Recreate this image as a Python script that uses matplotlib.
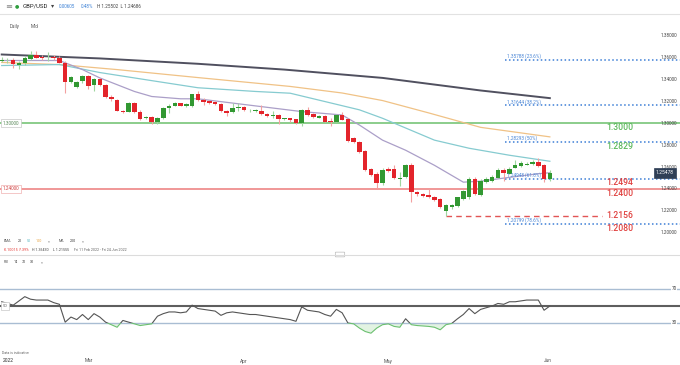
import matplotlib
matplotlib.use("Agg")
import matplotlib.pyplot as plt
import matplotlib.transforms as mtransforms
from matplotlib.patches import Rectangle, FancyBboxPatch
import numpy as np

plt.rcParams['font.family'] = ['Roboto', 'DejaVu Sans']

# ---- daily GBP/USD candles ----
opens = [
    1.3568, 1.3565, 1.3577, 1.3537, 1.3549, 1.3590, 1.3623, 1.3605, 1.3595, 1.3605,
    1.3593, 1.3553, 1.3378, 1.3328, 1.3383, 1.3429, 1.3347, 1.3408, 1.3353, 1.3236,
    1.3215, 1.3116, 1.3107, 1.3190, 1.3107, 1.3052, 1.3061, 1.3009, 1.3046, 1.3144,
    1.3162, 1.3181, 1.3157, 1.3159, 1.3267, 1.3215, 1.3206, 1.3194, 1.3175, 1.3113,
    1.3101, 1.3138, 1.3147, 1.3111, 1.3113, 1.3116, 1.3088, 1.3067, 1.3076, 1.3037,
    1.3046, 1.3037, 1.3006, 1.3123, 1.3083, 1.3052, 1.3070, 1.3021, 1.3015, 1.3076,
    1.3040, 1.2867, 1.2830, 1.2745, 1.2579, 1.2533, 1.2452, 1.2583, 1.2585, 1.2489,
    1.2508, 1.2616, 1.2370, 1.2355, 1.2346, 1.2323, 1.2309, 1.2201, 1.2231, 1.2247,
    1.2311, 1.2323, 1.2493, 1.2348, 1.2462, 1.2477, 1.2502, 1.2576, 1.2539, 1.2594,
    1.2606, 1.2622, 1.2631, 1.2646, 1.2616, 1.2493]
highs = [
    1.3602, 1.3593, 1.3593, 1.3565, 1.3611, 1.3657, 1.3657, 1.3620, 1.3648, 1.3620,
    1.3611, 1.3565, 1.3436, 1.3390, 1.3445, 1.3445, 1.3418, 1.3418, 1.3362, 1.3261,
    1.3224, 1.3123, 1.3196, 1.3196, 1.3123, 1.3067, 1.3067, 1.3058, 1.3150, 1.3178,
    1.3196, 1.3187, 1.3187, 1.3270, 1.3291, 1.3230, 1.3215, 1.3206, 1.3187, 1.3123,
    1.3184, 1.3184, 1.3159, 1.3132, 1.3132, 1.3169, 1.3095, 1.3113, 1.3086, 1.3053,
    1.3053, 1.3040, 1.3132, 1.3153, 1.3090, 1.3076, 1.3076, 1.3046, 1.3086, 1.3101,
    1.3049, 1.2874, 1.2837, 1.2754, 1.2588, 1.2551, 1.2588, 1.2597, 1.2616, 1.2551,
    1.2625, 1.2634, 1.2385, 1.2367, 1.2404, 1.2339, 1.2321, 1.2265, 1.2265, 1.2330,
    1.2394, 1.2505, 1.2505, 1.2487, 1.2505, 1.2523, 1.2588, 1.2588, 1.2597, 1.2662,
    1.2652, 1.2643, 1.2662, 1.2680, 1.2625, 1.2570]
lows = [
    1.3556, 1.3547, 1.3510, 1.3500, 1.3537, 1.3583, 1.3593, 1.3583, 1.3574, 1.3583,
    1.3547, 1.3279, 1.3371, 1.3325, 1.3371, 1.3316, 1.3291, 1.3344, 1.3233, 1.3206,
    1.3113, 1.3095, 1.3104, 1.3095, 1.3030, 1.3040, 1.2994, 1.2994, 1.3040, 1.3095,
    1.3159, 1.3159, 1.3150, 1.3150, 1.3206, 1.3169, 1.3178, 1.3169, 1.3104, 1.3067,
    1.3095, 1.3113, 1.3113, 1.3104, 1.3104, 1.3076, 1.3058, 1.3052, 1.2994, 1.3030,
    1.3012, 1.2994, 1.2978, 1.3067, 1.3053, 1.3049, 1.3012, 1.2978, 1.3012, 1.3030,
    1.2828, 1.2823, 1.2726, 1.2560, 1.2514, 1.2406, 1.2440, 1.2551, 1.2491, 1.2431,
    1.2500, 1.2277, 1.2339, 1.2330, 1.2321, 1.2293, 1.2228, 1.2155, 1.2219, 1.2238,
    1.2302, 1.2311, 1.2348, 1.2339, 1.2450, 1.2468, 1.2496, 1.2477, 1.2533, 1.2588,
    1.2597, 1.2616, 1.2620, 1.2597, 1.2462, 1.2477]
closes = [
    1.3583, 1.3574, 1.3544, 1.3547, 1.3593, 1.3623, 1.3599, 1.3593, 1.3599, 1.3593,
    1.3553, 1.3378, 1.3424, 1.3378, 1.3429, 1.3344, 1.3406, 1.3353, 1.3240, 1.3224,
    1.3116, 1.3101, 1.3190, 1.3101, 1.3040, 1.3061, 1.3009, 1.3052, 1.3144, 1.3162,
    1.3184, 1.3162, 1.3175, 1.3265, 1.3215, 1.3199, 1.3187, 1.3175, 1.3113, 1.3095,
    1.3144, 1.3153, 1.3120, 1.3116, 1.3123, 1.3086, 1.3070, 1.3074, 1.3037, 1.3046,
    1.3028, 1.3006, 1.3123, 1.3076, 1.3058, 1.3070, 1.3015, 1.3009, 1.3076, 1.3033,
    1.2837, 1.2830, 1.2738, 1.2570, 1.2523, 1.2452, 1.2576, 1.2565, 1.2499, 1.2499,
    1.2616, 1.2370, 1.2355, 1.2339, 1.2330, 1.2299, 1.2238, 1.2256, 1.2253, 1.2323,
    1.2385, 1.2493, 1.2355, 1.2471, 1.2489, 1.2508, 1.2576, 1.2545, 1.2585, 1.2616,
    1.2637, 1.2631, 1.2646, 1.2606, 1.2493, 1.2547]

# moving averages, sampled at bar positions
ma200_x = [0, 17, 34, 49, 66, 83, 95]
ma200 = [1.3629, 1.3593, 1.3544, 1.3491, 1.3415, 1.3300, 1.3230]
ema100_x = [0, 10, 20, 34, 50, 59, 66, 74, 83, 95]
ema100 = [1.3556, 1.3537, 1.3491, 1.3418, 1.3337, 1.3277, 1.3208, 1.3095, 1.2963, 1.2876]
ema50_x = [0, 10, 17, 26, 34, 44, 50, 56, 62, 66, 75, 81, 88, 95]
ema50 = [1.3528, 1.3537, 1.3464, 1.3390, 1.3325, 1.3291, 1.3275, 1.3199, 1.3123, 1.3046,
         1.2846, 1.2772, 1.2708, 1.2653]
ema20_x = [0, 10, 14, 17, 23, 26, 31, 34, 52, 59, 62, 66, 70, 75, 80, 83, 87, 93, 95]
ema20 = [1.3574, 1.3574, 1.3491, 1.3415, 1.3291, 1.3245, 1.3224, 1.3224, 1.3107, 1.3076,
         1.2984, 1.2846, 1.2754, 1.2616, 1.2462, 1.2471, 1.2499, 1.2539, 1.2548]

# RSI 14
rsi = [55, 53, 51, 56, 61, 58, 57, 57, 57, 54, 52, 31, 37, 34, 40, 34, 41, 37, 31, 28,
       25, 33, 31, 29, 27, 28, 29, 38, 41, 43, 43, 42, 43, 51, 47, 46, 45, 44, 39, 42,
       43, 42, 41, 40, 40, 39, 38, 37, 36, 35, 34, 32, 49, 45, 44, 43, 40, 38, 46, 42,
       30, 29, 24, 20, 18, 24, 28, 29, 26, 25, 35, 28, 27, 26.5, 26, 25, 22, 28, 29.5, 35,
       40, 47, 41, 46, 48, 50, 53, 52, 55, 55, 56, 57, 57, 57, 45, 50]

# levels
fib_levels = [1.35788, 1.31644, 1.28293, 1.24948, 1.20799]
fib_pcts = ['23.6%', '38.2%', '50%', '61.8%', '78.6%']
green_level = 1.3000
red_level = 1.2400
low_level = 1.2156
key_text = ['1.3000', '1.2829', '1.2494', '1.2400', '1.2156', '1.2080']
key_price = [1.3000, 1.28293, 1.24948, 1.2400, 1.2156, 1.20799]
key_color = ['#5cb85c', '#5cb85c', '#e0403e', '#e0403e', '#e0403e', '#e0403e']
price_ticks = [1.20, 1.22, 1.24, 1.26, 1.28, 1.30, 1.32, 1.34, 1.36, 1.38]
last_price = '1.25478'
month_labels = ['Mar', 'Apr', 'May', 'Jun']
month_pos = [15, 42, 67, 94.7]

W, H = 680, 365
def fx(x):
    return x / W
def fy(y):
    return 1 - y / H

fig = plt.figure(figsize=(6.8, 3.65), dpi=100)
fig.patch.set_facecolor('white')

xlim = (-1.7 / 5.77, (W - 1.7) / 5.77)

# ---- price panel ----
ax = fig.add_axes([0, fy(254), 1, (254 - 28) / H])
ax.set_xlim(*xlim)
ax.set_ylim(1.30 - (254 - 123.3) / 1094, 1.30 + (123.3 - 28) / 1094)
ax.axis('off')

x = np.arange(len(opens))
o = np.array(opens); c = np.array(closes)
hi = np.array(highs); lo = np.array(lows)
up = c >= o
body_col = np.where(up, '#329832', '#e3242b')
wick_col = np.where(up, '#9fd69f', '#f3a0a0')

ax.plot(ma200_x, ma200, color='#50505f', lw=1.4, zorder=2)
ax.plot(ema100_x, ema100, color='#f0c286', lw=0.9, zorder=2)
ax.plot(ema50_x, ema50, color='#86cbd0', lw=0.9, zorder=2)
ax.plot(ema20_x, ema20, color='#ab9fc8', lw=0.9, zorder=2)

ax.axhline(green_level, color='#6cc06c', lw=1.1, zorder=1)
ax.axhline(red_level, color='#ec7b7b', lw=1.1, zorder=1)
ax.hlines(low_level, 77, 104, colors='#e25555', lw=1.0, linestyles=(0, (4, 3)), zorder=1)
for lv, pc in zip(fib_levels, fib_pcts):
    ax.hlines(lv, 87.2, xlim[1], colors='#3d7fd6', lw=1.1, linestyles=(0, (1, 1.6)), zorder=1)
    ax.annotate(f'{lv:.5f} ({pc})', xy=(87.6, lv), xytext=(0, 2.6), textcoords='offset points',
                fontsize=3.4, color='#4a86d6', va='center', ha='left', zorder=5)

ax.vlines(x, lo, hi, colors=wick_col, lw=0.8, zorder=3)
ax.bar(x, np.maximum(np.abs(c - o), 0.00025), bottom=np.minimum(o, c), width=0.78,
       color=body_col, zorder=4)

for t, p, col in zip(key_text, key_price, key_color):
    off = 0 if t == '1.2156' else -3.1
    ax.annotate(t, xy=(104.7, p), xytext=(0, off), textcoords='offset points',
                fontsize=6.2, color=col, fontweight='medium', va='center', ha='left')

tr = mtransforms.blended_transform_factory(ax.transAxes, ax.transData)
for p in price_ticks:
    ax.text(677 / W, p, f'{p:.5f}', transform=tr, fontsize=3.3, color='#444',
            ha='right', va='center')
ax.text(3 / W, green_level, '1.30000', transform=tr, fontsize=3.3, color='#5a8a5a',
        ha='left', va='center',
        bbox=dict(boxstyle='square,pad=0.35', fc='white', ec='#c8c8c8', lw=0.5))
ax.text(3 / W, red_level, '1.24000', transform=tr, fontsize=3.3, color='#d04040',
        ha='left', va='center',
        bbox=dict(boxstyle='square,pad=0.35', fc='white', ec='#f0b0b0', lw=0.5))
ax.text(665 / W, float(last_price[:6]), last_price, transform=tr, fontsize=3.6, color='white',
        ha='center', va='center', zorder=6,
        bbox=dict(boxstyle='square,pad=0.45', fc='#2f3f56', ec='#2f3f56', lw=0.5))

# ---- RSI panel ----
ax2 = fig.add_axes([0, fy(356), 1, 100 / H])
ax2.set_xlim(*xlim)
ax2.set_ylim(30 - 33 / 0.85, 70 + 33 / 0.85)
ax2.axis('off')
r = np.array(rsi, dtype=float)
ax2.axhline(70, color='#a9bdd3', lw=1.0)
ax2.axhline(30, color='#a9bdd3', lw=1.0)
ax2.axhline(50, color='#5e5e5e', lw=1.5)
ax2.fill_between(x, r, 30, where=r < 30, interpolate=True, color='#e2f3e2', lw=0)
l1, = ax2.plot(x, r, color='#555555', lw=0.8)
l1.set_clip_path(Rectangle((-10, 30), 300, 300, transform=ax2.transData))
l2, = ax2.plot(x, r, color='#6cc070', lw=0.8)
l2.set_clip_path(Rectangle((-10, -100), 300, 130, transform=ax2.transData))
tr2 = mtransforms.blended_transform_factory(ax2.transAxes, ax2.transData)
for lv in (70, 30):
    ax2.text(677 / W, lv, str(lv), transform=tr2, fontsize=3.3, color='#444',
             ha='right', va='center', bbox=dict(boxstyle='square,pad=0.1', fc='white', ec='none'))
ax2.text(3 / W, 50, '50', transform=tr2, fontsize=3.1, color='#666', ha='left', va='center',
         bbox=dict(boxstyle='square,pad=0.35', fc='white', ec='#c8c8c8', lw=0.5))

trd = mtransforms.blended_transform_factory(ax2.transData, ax2.transAxes)
for lab, pos in zip(month_labels, month_pos):
    ax2.text(pos, -0.05, lab, transform=trd, fontsize=3.4, color='#555', ha='center', va='center',
             clip_on=False)
fig.text(fx(3), fy(361), '2022', fontsize=3.6, color='#333', ha='left', va='center')
fig.text(fx(2), fy(353), 'Data is indicative', fontsize=2.5, color='#666', ha='left', va='center')

# ---- separators and header ----
fig.add_artist(plt.Line2D([0, 1], [fy(13.5), fy(13.5)], color='#e2e2e2', lw=0.8))
fig.add_artist(plt.Line2D([0, 1], [fy(254.5), fy(254.5)], color='#dcdcdc', lw=0.8))
fig.add_artist(FancyBboxPatch((fx(336), fy(256.5)), 8 / W, 4 / H,
                              boxstyle='round,pad=0.001', fc='white', ec='#bbbbbb', lw=0.5))

fig.text(fx(5), fy(6), '≡', fontsize=6, color='#888', ha='left', va='center', family='DejaVu Sans')
fig.text(fx(15), fy(6), '●', fontsize=3.6, color='#2e9e3e', ha='left', va='center', family='DejaVu Sans')
fig.text(fx(23), fy(6), 'GBP/USD', fontsize=4.3, color='#222', ha='left', va='center')
fig.text(fx(51), fy(6), '▾', fontsize=4.5, color='#444', ha='left', va='center', family='DejaVu Sans')
fig.text(fx(59), fy(6), '0.00605', fontsize=3.3, color='#3f83d6', ha='left', va='center')
fig.text(fx(81), fy(6), '0.48%', fontsize=3.3, color='#3f83d6', ha='left', va='center')
fig.text(fx(97), fy(6), 'H 1.25502  L 1.24686', fontsize=3.3, color='#444', ha='left', va='center')
fig.text(fx(10), fy(26.5), 'Daily', fontsize=3.3, color='#555', ha='left', va='center')
fig.text(fx(31), fy(26.5), 'Mid', fontsize=3.3, color='#555', ha='left', va='center')

# indicator legends
fs = 2.6
legend1 = [(4, 'EMA', '#555'), (18, '20', '#333'), (27, '50', '#4fb3bf'), (36, '100', '#e8a13a'),
           (48, '×', '#777'), (59, 'MA', '#555'), (70, '200', '#333'), (82, '×', '#777')]
for px, t, col in legend1:
    fig.text(fx(px), fy(241), t, fontsize=fs, color=col, ha='left', va='center')
legend2 = [(4, '-0.10015', '#e53935'), (19, '-7.39%', '#e53935'), (32, 'H 1.36430', '#444'),
           (53, 'L 1.21555', '#444'), (74, 'Fri 11 Feb 2022 - Fri 24 Jun 2022', '#666')]
for px, t, col in legend2:
    fig.text(fx(px), fy(250), t, fontsize=fs, color=col, ha='left', va='center')
legend3 = [(4, 'RSI', '#555'), (14, '14', '#333'), (22, '70', '#333'), (30, '30', '#333'),
           (41, '×', '#777')]
for px, t, col in legend3:
    fig.text(fx(px), fy(262), t, fontsize=fs, color=col, ha='left', va='center')

fig.savefig('out.png', dpi=100, facecolor='white')
